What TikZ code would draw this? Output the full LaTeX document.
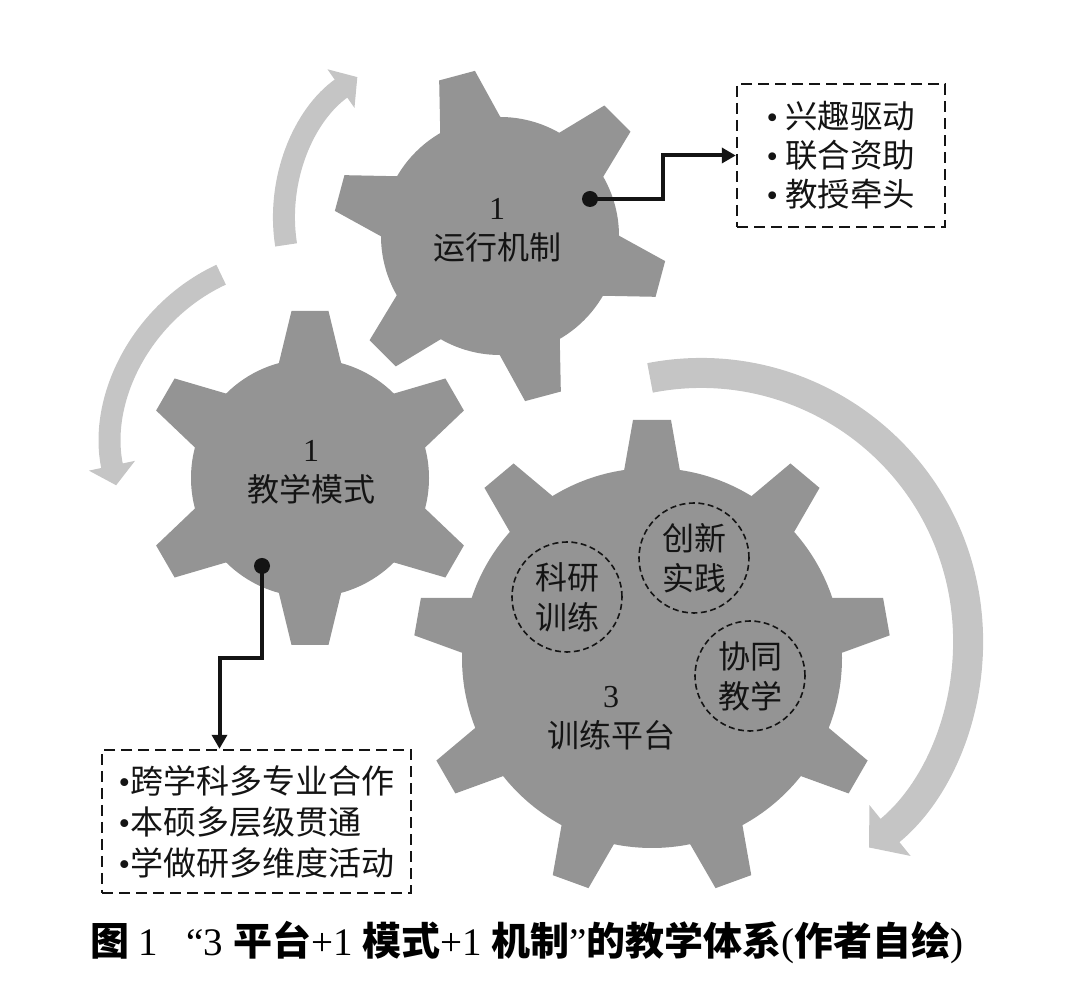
\documentclass[tikz,border=0pt]{standalone}
\usepackage{fontspec}
\setmainfont{Liberation Serif}
\newfontfamily\cjk{Noto Sans CJK SC}
\usetikzlibrary{arrows.meta,positioning,calc}
\definecolor{gearfill}{RGB}{148,148,148}
\definecolor{flowgrey}{RGB}{197,197,197}
\definecolor{inkblack}{RGB}{20,20,20}
\newcommand{\bul}{{\rmfamily\textbullet}}
\tikzset{
  tooth/.style={fill=gearfill, draw=none},
  hub/.style={circle, fill=gearfill, draw=none, inner sep=0pt},
  gearlbl/.style={font=\fontsize{32}{40}\selectfont, align=center, text=inkblack, inner sep=0pt},
  ring/.style={circle, draw=inkblack, dash pattern=on 6pt off 3.5pt, line width=1.6pt, minimum size=110pt, inner sep=0pt, align=center, text=inkblack, font=\cjk\fontsize{32}{40}\selectfont},
  listbox/.style={rectangle, draw=inkblack, line width=2.4pt, dash pattern=on 11pt off 6pt, align=left, minimum height=143pt, inner sep=0pt, text=inkblack},
  pin/.style={circle, fill=inkblack, minimum size=16pt, inner sep=0pt},
  conn/.style={draw=inkblack, line width=4pt, -{Triangle[length=14pt,width=15pt]}},
  flowarc/.style={draw=flowgrey, line width=22pt, -{Triangle[length=20pt,width=46pt]}},
  figcap/.style={font=\fontsize{39}{39}\selectfont, text=black, inner sep=0pt},
}
\begin{document}
\begin{tikzpicture}[x=1pt,y=1pt]
  \useasboundingbox (0,0) rectangle (1072,988);
  % cycle arrows
  \coordinate (cA) at (456,770);
  \coordinate (cB) at (301,542);
  \coordinate (cC) at (701,348);
  \draw[flowarc] ([shift={(189:172pt)}]cA) arc[start angle=189, end angle=125, radius=172pt];
  \draw[flowarc] ([shift={(115:189pt)}]cB) arc[start angle=115, end angle=192, radius=189pt];
  \draw[flowarc, line width=30pt, -{Triangle[length=27pt,width=64pt]}] ([shift={(101:267pt)}]cC) arc[start angle=101, end angle=-51, radius=267pt];
  % gears
  \node[hub, minimum size=238pt] (gearA) at (500,752) {};
  \foreach \a in {105,165,...,405}{
    \fill[tooth, shift={(gearA)}, rotate=\a] (99,-35) -- (166,-18.5) -- (166,18.5) -- (99,35) -- cycle;
  }
  \node[hub, minimum size=238pt] (gearB) at (310,510) {};
  \foreach \a in {90,150,...,390}{
    \fill[tooth, shift={(gearB)}, rotate=\a] (99,-35) -- (167,-18.5) -- (167,18.5) -- (99,35) -- cycle;
  }
  \node[hub, minimum size=380pt] (gearC) at (652,330) {};
  \foreach \a in {90,130,...,410}{
    \fill[tooth, shift={(gearC)}, rotate=\a] (170,-31) -- (238,-19) -- (238,19) -- (170,31) -- cycle;
  }
  \node[gearlbl] (lblA) at (497,758) {1\\{\cjk 运行机制}};
  \node[gearlbl] (lblB) at (311,516) {1\\{\cjk 教学模式}};
  \node[gearlbl] (lblC) at (611,270) {3\\{\cjk 训练平台}};
  \node[ring] (kyxl) at (567,391) {科研\\训练};
  \node[ring] (cxsj) at (694,430) {创新\\实践};
  \node[ring] (xtjx) at (750,312) {协同\\教学};
  % lists
  \node[listbox, minimum width=208pt, font=\cjk\fontsize{32.5}{39}\selectfont] (boxA) at (841,832.5) {\bul\ 兴趣驱动\\\bul\ 联合资助\\\bul\ 教授牵头};
  \node[listbox, minimum width=309pt, font=\cjk\fontsize{33}{41}\selectfont] (boxB) at (256.5,166.5) {\bul 跨学科多专业合作\\\bul 本硕多层级贯通\\\bul 学做研多维度活动};
  \node[pin] (pinA) at (590,789) {};
  \node[pin] (pinB) at (262,422) {};
  \draw[conn] (pinA.center) -- ++(73,0) |- (boxA.west);
  \draw[conn] (pinB.center) -- ++(0,-92) -| ([xshift=-37pt]boxB.north);
  % caption
  \node[figcap] (cap) at (527,45) {{\cjk\bfseries 图}~1\hspace{28pt}“3~{\cjk\bfseries 平台}+1~{\cjk\bfseries 模式}+1~{\cjk\bfseries 机制}”{\cjk\bfseries 的教学体系}({\cjk\bfseries 作者自绘})};
\end{tikzpicture}
\end{document}
